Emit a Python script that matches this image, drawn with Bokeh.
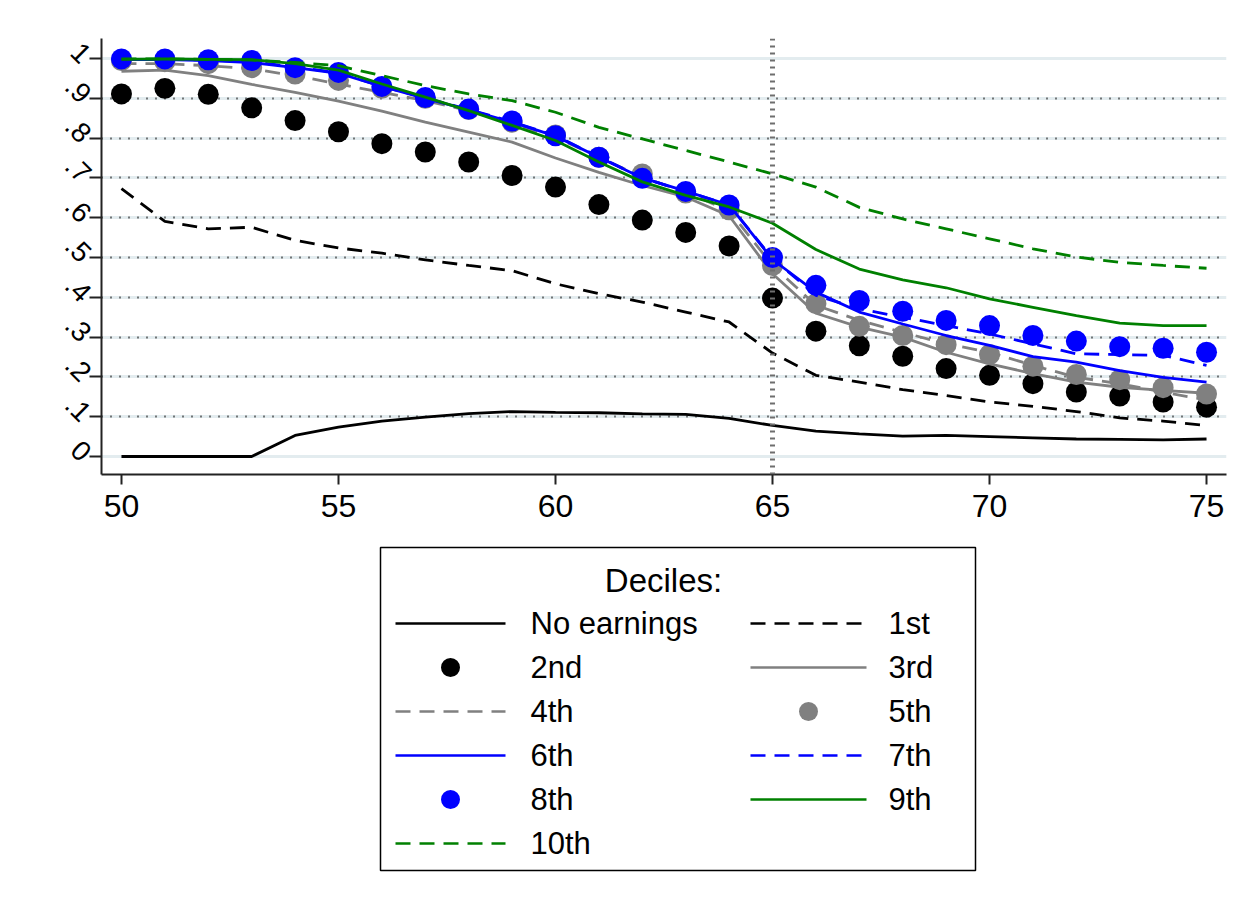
import math
from bokeh.plotting import figure
from bokeh.models import Range1d, FixedTicker, Span, Grid
from bokeh.layouts import column
from bokeh.embed import file_html
from bokeh.resources import INLINE
from bokeh.core.properties import value

# ---- data: share of each earnings decile still employed, by age ----
ages = list(range(50, 76))

no_earnings = [0.0, 0.0, 0.0, 0.0, 0.053, 0.074, 0.089, 0.099, 0.108, 0.113, 0.111, 0.110, 0.107,
               0.106, 0.096, 0.078, 0.064, 0.057, 0.051, 0.053, 0.050, 0.047, 0.044, 0.043, 0.042, 0.044]
d1 = [0.673, 0.591, 0.572, 0.576, 0.543, 0.524, 0.511, 0.494, 0.480, 0.467, 0.434, 0.409, 0.388,
      0.363, 0.338, 0.260, 0.204, 0.187, 0.168, 0.153, 0.137, 0.126, 0.113, 0.097, 0.089, 0.078]
d2 = [0.911, 0.925, 0.910, 0.876, 0.844, 0.816, 0.786, 0.765, 0.740, 0.706, 0.677, 0.633, 0.594,
      0.563, 0.529, 0.398, 0.315, 0.278, 0.252, 0.221, 0.204, 0.183, 0.162, 0.152, 0.137, 0.124]
d3 = [0.968, 0.971, 0.957, 0.935, 0.915, 0.893, 0.868, 0.840, 0.815, 0.790, 0.750, 0.714, 0.681,
      0.652, 0.605, 0.459, 0.360, 0.325, 0.300, 0.262, 0.233, 0.208, 0.187, 0.174, 0.166, 0.159]
d4 = [0.987, 0.987, 0.982, 0.974, 0.957, 0.936, 0.915, 0.894, 0.869, 0.836, 0.802, 0.752, 0.702,
      0.664, 0.618, 0.480, 0.380, 0.342, 0.312, 0.283, 0.262, 0.229, 0.199, 0.183, 0.162, 0.142]
d5 = [0.995, 0.992, 0.987, 0.977, 0.961, 0.945, 0.925, 0.900, 0.872, 0.840, 0.808, 0.752, 0.710,
      0.662, 0.620, 0.480, 0.384, 0.327, 0.304, 0.281, 0.256, 0.227, 0.206, 0.193, 0.173, 0.157]
d6 = [0.997, 0.997, 0.995, 0.990, 0.977, 0.963, 0.930, 0.900, 0.871, 0.840, 0.805, 0.752, 0.700,
      0.667, 0.632, 0.495, 0.413, 0.363, 0.333, 0.304, 0.279, 0.251, 0.237, 0.216, 0.199, 0.187]
d7 = [0.998, 0.998, 0.996, 0.992, 0.979, 0.964, 0.930, 0.901, 0.872, 0.841, 0.806, 0.753, 0.700,
      0.666, 0.632, 0.498, 0.405, 0.371, 0.350, 0.329, 0.308, 0.283, 0.258, 0.256, 0.254, 0.229]
d8 = [0.999, 0.999, 0.997, 0.995, 0.977, 0.965, 0.930, 0.902, 0.873, 0.843, 0.806, 0.752, 0.699,
      0.666, 0.632, 0.500, 0.430, 0.392, 0.365, 0.342, 0.329, 0.304, 0.290, 0.276, 0.272, 0.262]
d9 = [0.998, 0.999, 0.998, 0.997, 0.987, 0.971, 0.936, 0.903, 0.869, 0.832, 0.794, 0.740, 0.690,
      0.656, 0.627, 0.586, 0.520, 0.471, 0.444, 0.424, 0.396, 0.375, 0.354, 0.335, 0.329, 0.329]
d10 = [0.999, 0.999, 0.998, 0.996, 0.990, 0.982, 0.957, 0.932, 0.911, 0.894, 0.865, 0.827, 0.798,
       0.769, 0.740, 0.710, 0.677, 0.626, 0.597, 0.572, 0.547, 0.522, 0.501, 0.488, 0.480, 0.473]

x_ticks = [50, 55, 60, 65, 70, 75]
y_ticks = [0, 0.1, 0.2, 0.3, 0.4, 0.5, 0.6, 0.7, 0.8, 0.9, 1]
y_tick_labels = ["0", ".1", ".2", ".3", ".4", ".5", ".6", ".7", ".8", ".9", "1"]
pension_age = 65

series_names = ["No earnings", "1st", "2nd", "3rd", "4th", "5th", "6th", "7th", "8th", "9th", "10th"]
series_values = [no_earnings, d1, d2, d3, d4, d5, d6, d7, d8, d9, d10]

FONT = "Liberation Sans"
BLACK, GRAY, BLUE, GREEN = "#000000", "#808080", "#0000ff", "#008000"
DASH = "15 9"

# (kind, colour, dash)
styles = [
    ("line", BLACK, "solid"),
    ("line", BLACK, DASH),
    ("dot", BLACK, None),
    ("line", GRAY, "solid"),
    ("line", GRAY, DASH),
    ("dot", GRAY, None),
    ("line", BLUE, "solid"),
    ("line", BLUE, DASH),
    ("dot", BLUE, None),
    ("line", GREEN, "solid"),
    ("line", GREEN, DASH),
]

# ---- main panel ----
p = figure(width=1254, height=540,
           x_range=Range1d(49.54, 75.46), y_range=Range1d(-0.0452, 1.0503),
           output_backend="svg", toolbar_location=None,
           min_border_left=101, min_border_right=28, min_border_top=38, min_border_bottom=66)
p.outline_line_color = None
p.background_fill_color = "white"
p.border_fill_color = "white"

p.xgrid.visible = False
p.ygrid.ticker = FixedTicker(ticks=y_ticks)
p.ygrid.grid_line_color = "#e3ecef"
p.ygrid.grid_line_width = 3

dotted = Grid(dimension=1, ticker=FixedTicker(ticks=y_ticks[1:-1]),
              grid_line_color="black", grid_line_width=2, grid_line_dash="1 8")
p.add_layout(dotted)

p.add_layout(Span(location=pension_age, dimension="height", line_color="#6e6e6e",
                  line_width=5, line_dash="2 5"))

for name, vals, (kind, col, dash) in zip(series_names, series_values, styles):
    if kind == "line":
        p.line(ages, vals, line_color=col, line_width=2.8, line_dash=dash)
    else:
        p.scatter(ages, vals, size=21, fill_color=col, line_color=col, line_width=0)

p.xaxis.ticker = FixedTicker(ticks=x_ticks)
p.xaxis.major_label_text_font = FONT
p.xaxis.major_label_text_font_size = "32px"
p.xaxis.major_label_text_color = "black"
p.xaxis.major_tick_out = 10
p.xaxis.major_tick_in = 0
p.xaxis.major_label_standoff = 10
p.xaxis.minor_tick_line_color = None

p.yaxis.ticker = FixedTicker(ticks=y_ticks)
p.yaxis.major_label_overrides = dict(zip(y_ticks, y_tick_labels))
p.yaxis.major_label_text_font = FONT
p.yaxis.major_label_text_font_size = "28px"
p.yaxis.major_label_text_color = "black"
p.yaxis.major_label_orientation = -math.pi / 4
p.yaxis.major_tick_out = 12
p.yaxis.major_tick_in = 0
p.yaxis.major_label_standoff = 3
p.yaxis.minor_tick_line_color = None

for ax in (p.xaxis, p.yaxis):
    ax.axis_line_color = "#222222"
    ax.axis_line_width = 2
    ax.major_tick_line_color = "#222222"
    ax.major_tick_line_width = 2

# ---- legend panel (coordinates in page pixels; frame is aligned with the plot above) ----
leg = figure(width=1254, height=369, x_range=Range1d(101, 1226), y_range=Range1d(909, 540),
             output_backend="svg", toolbar_location=None,
             min_border_left=101, min_border_right=28, min_border_top=0, min_border_bottom=0,
             x_axis_type=None, y_axis_type=None)
leg.outline_line_color = None
leg.grid.visible = False
leg.background_fill_color = "white"
leg.border_fill_color = "white"

box_l, box_r, box_t, box_b = 380, 975, 547, 870
leg.quad(left=[box_l], right=[box_r], top=[box_t], bottom=[box_b],
         fill_color=None, line_color="black", line_width=1.5)
leg.text(x=[663], y=[580], text=["Deciles:"], text_font=value(FONT),
         text_font_size="33px", text_align="center", text_baseline="middle", text_color="black")

row_y0, row_dy = 623, 44
cols = [(395, 505, 530), (750, 866, 888)]
for i, (name, (kind, col, dash)) in enumerate(zip(series_names, styles)):
    c = cols[i % 2]
    y = row_y0 + (i // 2) * row_dy
    if kind == "line":
        leg.line([c[0], c[1]], [y, y], line_color=col, line_width=2.5, line_dash=dash)
    else:
        leg.scatter([(c[0] + c[1]) / 2], [y], size=19, fill_color=col, line_color=col, line_width=0)
    leg.text(x=[c[2]], y=[y], text=[name], text_font=value(FONT), text_font_size="31px",
             text_align="left", text_baseline="middle", text_color="black")

layout = column(p, leg, spacing=0)
open("out.html", "w").write(file_html(layout, INLINE))
